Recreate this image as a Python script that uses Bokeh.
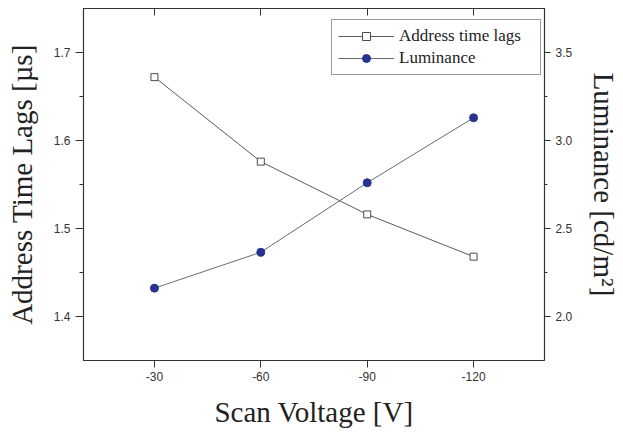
from bokeh.plotting import figure
from bokeh.models import Range1d, LinearAxis, FixedTicker, PrintfTickFormatter
from bokeh.embed import file_html
from bokeh.resources import INLINE

# ---- data ----
voltage = [-30, -60, -90, -120]
time_lags = [1.672, 1.576, 1.516, 1.468]
luminance = [2.161, 2.365, 2.760, 3.129]

x_ticks = [-30, -60, -90, -120]
left_ticks = [1.4, 1.5, 1.6, 1.7]
left_minor = [1.45, 1.55, 1.65]
right_ticks = [2.0, 2.5, 3.0, 3.5]
right_minor = [2.25, 2.75, 3.25]

SERIF = "Liberation Serif"
SANS = "Liberation Sans"
AX = "#333333"

p = figure(width=623, height=431, output_backend="svg", toolbar_location=None,
           x_range=Range1d(-10, -140), y_range=Range1d(1.35, 1.75),
           min_border_left=83, min_border_right=76, min_border_top=8, min_border_bottom=71)
p.extra_y_ranges = {"lum": Range1d(1.75, 3.75)}
p.xgrid.visible = False
p.ygrid.visible = False
p.outline_line_color = AX
p.outline_line_width = 1.2
p.background_fill_color = "white"
p.border_fill_color = "white"

def style(ax, font_size="12px"):
    ax.axis_line_color = AX
    ax.major_tick_line_color = AX
    ax.minor_tick_line_color = AX
    ax.major_label_text_font = SANS
    ax.major_label_text_font_size = font_size
    ax.major_label_text_color = "#333333"
    ax.axis_label_text_font = SERIF
    ax.axis_label_text_font_style = "normal"
    ax.axis_label_text_font_size = "29px"
    ax.axis_label_text_color = "#222222"

# bottom axis
xa = p.xaxis[0]
xa.ticker = FixedTicker(ticks=x_ticks)
xa.formatter = PrintfTickFormatter(format="%d")
xa.axis_label = "Scan Voltage [V]"
style(xa)
xa.major_tick_in = 0
xa.major_tick_out = 7
xa.minor_tick_out = 0
xa.minor_tick_in = 0
xa.major_label_standoff = 4
xa.axis_label_standoff = 12

# left axis
ya = p.yaxis[0]
ya.ticker = FixedTicker(ticks=left_ticks, minor_ticks=left_minor)
ya.formatter = PrintfTickFormatter(format="%.1f")
ya.axis_label = "Address Time Lags [µs]"
style(ya)
ya.major_tick_in = 0
ya.major_tick_out = 8
ya.minor_tick_in = 0
ya.minor_tick_out = 4
ya.major_label_standoff = 5
ya.axis_label_standoff = 13

# right axis
ra = LinearAxis(y_range_name="lum", axis_label="Luminance [cd/m²]")
ra.ticker = FixedTicker(ticks=right_ticks, minor_ticks=right_minor)
ra.formatter = PrintfTickFormatter(format="%.1f")
style(ra)
ra.major_tick_in = 0
ra.major_tick_out = 6
ra.minor_tick_in = 0
ra.minor_tick_out = 3
ra.major_label_standoff = 5
ra.axis_label_standoff = 13
p.add_layout(ra, "right")

# top axis (inside ticks only, no labels drawn)
ta = LinearAxis(ticker=FixedTicker(ticks=x_ticks))
ta.axis_line_color = AX
ta.major_tick_line_color = AX
ta.major_tick_in = 7
ta.major_tick_out = 0
ta.minor_tick_in = 0
ta.minor_tick_out = 0
ta.major_label_text_font_size = "1px"
ta.major_label_text_color = None
ta.major_label_standoff = 0
p.add_layout(ta, "above")

# series
p.line(voltage, time_lags, line_color="#5a5a5a", line_width=1,
       legend_label="Address time lags")
p.scatter(voltage, time_lags, marker="square", size=7, fill_color="white",
          line_color="#4a4a4a", line_width=1, legend_label="Address time lags")

p.line(voltage, luminance, line_color="#6a6a7a", line_width=1,
       y_range_name="lum", legend_label="Luminance")
p.scatter(voltage, luminance, marker="circle", size=8, fill_color="#26338f",
          line_color="#26338f", y_range_name="lum", legend_label="Luminance")

lg = p.legend[0]
lg.location = (248, 285)
lg.border_line_color = AX
lg.border_line_width = 1
lg.background_fill_color = "white"
lg.background_fill_alpha = 1
lg.padding = 6
lg.spacing = 2
lg.margin = 0
lg.glyph_width = 56
lg.glyph_height = 20
lg.label_height = 20
lg.label_width = 135
lg.label_standoff = 5
lg.label_text_font = SERIF
lg.label_text_font_size = "17px"
lg.label_text_color = "#222222"

open("out.html", "w").write(file_html(p, INLINE))
